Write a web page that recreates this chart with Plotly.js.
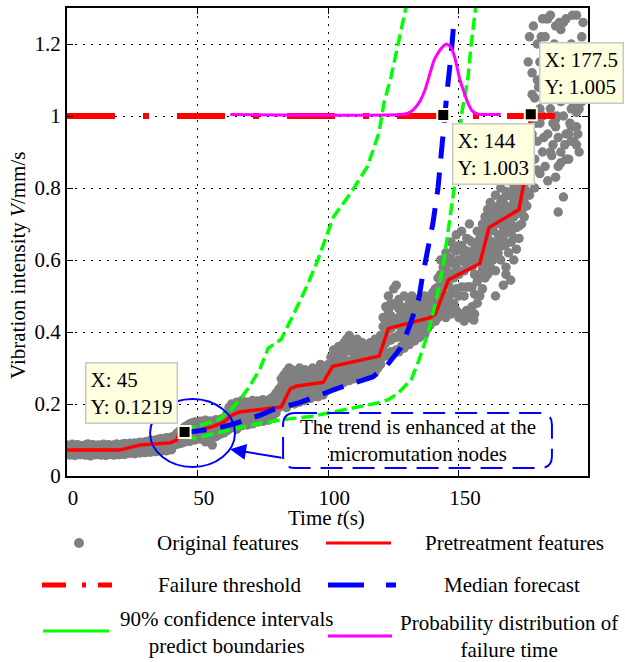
<!DOCTYPE html>
<html><head><meta charset="utf-8">
<script src="https://cdn.plot.ly/plotly-3.0.1.min.js"></script>
<style>html,body{margin:0;padding:0;background:#fff}#chart{width:625px;height:662px}</style>
</head><body><div id="chart"></div>
<script>
// ---------- data ----------
const xTicks = [0, 50, 100, 150];
const yTicks = [0, 0.2, 0.4, 0.6, 0.8, 1, 1.2];
const yTickText = ['0', '0.2', '0.4', '0.6', '0.8', '1', '1.2'];

// original features (gray band), grouped by time span
const bandX1 = [0,1,2,3,4,5,6,7,8,9,10,11,12,13,14,15,16,17,18,19,20];
const bandUp1 = [.086,.084,.088,.083,.087,.085,.082,.086,.089,.084,.087,.083,.086,.085,.088,.084,.087,.083,.086,.089,.085];
const bandMid1 = [.072,.074,.07,.073,.071,.075,.072,.07,.074,.071,.073,.072,.075,.07,.073,.071,.074,.072,.07,.073,.075];
const bandLow1 = [.06,.058,.062,.057,.061,.059,.063,.058,.06,.056,.061,.059,.062,.058,.06,.057,.061,.06,.058,.062,.059];

const bandX2 = [21,22,23,24,25,26,27,28,29,30,31,32,33,34,35,36,37,38,39,40];
const bandUp2 = [.088,.09,.087,.091,.089,.092,.09,.094,.092,.095,.096,.099,.097,.1,.102,.104,.101,.106,.104,.108];
const bandMid2 = [.075,.077,.074,.078,.076,.079,.077,.08,.079,.082,.08,.083,.082,.085,.084,.087,.085,.088,.087,.09];
const bandLow2 = [.062,.06,.064,.063,.065,.062,.066,.064,.067,.065,.068,.066,.07,.068,.071,.069,.072,.07,.074,.073];

const bandX3 = [41,42,43,44,45,46,47,48,49,50,51,52,53,54,55,56,57,58,59,60];
const bandUp3 = [.11,.118,.125,.13,.136,.14,.145,.148,.15,.146,.152,.149,.155,.151,.153,.148,.156,.152,.158,.16];
const bandUpMid3 = [.104,.109,.115,.119,.123,.129,.133,.137,.136,.137,.139,.14,.141,.142,.141,.141,.143,.144,.149,.151];
const bandMid3 = [.098,.1,.104,.108,.11,.118,.12,.125,.122,.128,.125,.13,.127,.132,.129,.134,.13,.136,.14,.142];
const bandLow3 = [.085,.088,.09,.092,.095,.1,.096,.104,.1,.106,.103,.108,.105,.11,.107,.112,.109,.114,.118,.12];

const bandX4 = [61,62,63,64,65,66,67,68,69,70,71,72,73,74,75,76,77,78,79,80];
const bandUp4 = [.17,.19,.2,.195,.205,.2,.21,.198,.205,.2,.21,.203,.208,.2,.212,.205,.21,.215,.22,.23];
const bandUpMid4 = [.16,.175,.182,.182,.186,.186,.192,.184,.19,.187,.194,.189,.194,.189,.197,.192,.197,.202,.208,.215];
const bandMid4 = [.15,.16,.165,.17,.168,.172,.175,.17,.176,.174,.178,.175,.18,.178,.182,.18,.184,.19,.195,.2];
const bandMidLow4 = [.138,.145,.15,.155,.149,.158,.158,.159,.159,.162,.162,.165,.165,.168,.167,.17,.17,.178,.182,.188];
const bandLow4 = [.125,.13,.135,.14,.13,.145,.14,.148,.142,.15,.145,.155,.15,.158,.152,.16,.155,.165,.17,.175];

const bandX5 = [81,82,83,84,85,86,87,88,89,90,91,92,93,94,95,96,97,98,99,100];
const bandUp5 = [.24,.27,.28,.29,.3,.295,.29,.285,.3,.28,.295,.285,.29,.3,.28,.29,.31,.3,.305,.31];
const bandUpMid5 = [.228,.25,.26,.268,.275,.268,.27,.265,.278,.265,.278,.27,.27,.28,.268,.278,.29,.283,.29,.295];
const bandMid5 = [.215,.23,.24,.245,.25,.24,.25,.245,.255,.25,.26,.255,.25,.26,.255,.265,.27,.265,.275,.28];
const bandMidLow5 = [.2,.212,.22,.218,.225,.222,.225,.228,.23,.232,.235,.238,.232,.24,.24,.243,.25,.245,.255,.26];
const bandLow5 = [.19,.195,.2,.19,.2,.205,.2,.21,.205,.215,.21,.22,.215,.22,.225,.22,.23,.225,.235,.24];

const bandX6 = [101,102,103,104,105,106,107,108,109,110,111,112,113,114,115,116,117,118,119,120];
const bandUp6 = [.33,.35,.34,.36,.35,.37,.38,.39,.37,.36,.38,.35,.37,.36,.35,.37,.36,.38,.37,.39];
const bandUpMid6 = [.31,.325,.322,.335,.325,.342,.35,.35,.345,.338,.352,.335,.35,.342,.335,.35,.342,.358,.355,.368];
const bandMid6 = [.29,.3,.305,.31,.3,.315,.32,.31,.32,.315,.325,.32,.33,.325,.32,.33,.325,.335,.34,.345];
const bandMidLow6 = [.268,.275,.282,.282,.282,.288,.295,.288,.298,.292,.302,.298,.308,.302,.305,.308,.31,.312,.32,.328];
const bandLow6 = [.245,.25,.26,.255,.265,.26,.27,.265,.275,.27,.28,.275,.285,.28,.29,.285,.295,.29,.3,.31];

const bandX7 = [121,122,123,124,125,126,127,128,129,130,131,132,133,134,135,136,137,138,139,140];
const bandUp7 = [.44,.47,.5,.48,.52,.53,.49,.47,.5,.46,.48,.5,.47,.49,.46,.48,.5,.47,.49,.51];
const bandUpMid7 = [.415,.435,.46,.445,.475,.475,.465,.44,.465,.44,.46,.465,.445,.465,.445,.465,.47,.45,.47,.49];
const bandMid7 = [.39,.4,.42,.41,.43,.42,.44,.41,.43,.42,.44,.43,.42,.44,.43,.45,.44,.43,.45,.47];
const bandMidLow7 = [.36,.37,.378,.378,.385,.385,.392,.385,.392,.395,.402,.405,.398,.415,.408,.425,.418,.42,.435,.45];
const bandLow7 = [.33,.34,.335,.345,.34,.35,.345,.36,.355,.37,.365,.38,.375,.39,.385,.4,.395,.41,.42,.43];

const bandX8 = [141,142,143,144,145,146,147,148,149,150,151,152,153,154,155,156,157,158,159,160];
const bandUp8 = [.52,.55,.6,.58,.62,.6,.65,.63,.67,.64,.68,.62,.66,.7,.65,.63,.68,.66,.7,.72];
const bandUpMid8 = [.5,.525,.56,.545,.58,.565,.605,.59,.625,.6,.64,.595,.625,.655,.615,.595,.64,.64,.665,.68];
const bandMid8 = [.48,.5,.52,.51,.54,.53,.56,.55,.58,.56,.6,.57,.59,.61,.58,.56,.6,.62,.63,.64];
const bandMidLow8 = [.455,.47,.485,.485,.49,.5,.505,.515,.52,.5,.525,.5,.525,.525,.525,.505,.54,.56,.575,.595];
const bandLow8 = [.43,.44,.45,.46,.44,.47,.45,.48,.46,.44,.45,.43,.46,.44,.47,.45,.48,.5,.52,.55];

const bandX9 = [161,162,163,164,165,166,167,168,169,170,171,172,173,174,175,176,177];
const bandUp9 = [.74,.76,.72,.78,.75,.8,.77,.79,.82,.78,.8,.83,.81,.85,.88,.9,.95];
const bandUpMid9 = [.7,.72,.685,.74,.71,.76,.73,.75,.78,.74,.76,.79,.77,.81,.84,.865,.905];
const bandMid9 = [.66,.68,.65,.7,.67,.72,.69,.71,.74,.7,.72,.75,.73,.77,.8,.83,.86];
const bandMidLow9 = [.61,.63,.625,.635,.645,.66,.665,.645,.68,.675,.66,.69,.695,.735,.76,.79,.82];
const bandLow9 = [.56,.58,.6,.57,.62,.6,.64,.58,.62,.65,.6,.63,.66,.7,.72,.75,.78];

const cloudX = [176,177,178,178,179,179,180,180,181,181,182,182,183,183,184,184,185,185,186,186,187,187,188,188,189,189,190,190,191,191,192,192,193,193,194,194,195,195,196,196,197,197,178,180,182,184,186,188,190,192,194,196,181,185,189,193,187,191,195,183,
  176.5,177.5,178.5,179.5,180.5,181.5,182.5,183.5,184.5,185.5,186.5,187.5,188.5,189.5,190.5,191.5,192.5,193.5,194.5,195.5,196.5,197.5,179,183,187,191,195,177,181,185,189,193,197,180,184,188,192,196,186,190];
const cloudY = [0.9,1.0,0.95,1.12,0.88,1.05,1.2,0.93,1.15,0.98,1.27,0.9,1.08,1.22,0.95,1.17,1.02,1.28,0.92,1.1,1.25,0.97,1.05,1.18,0.9,1.24,1.0,1.13,0.95,1.27,1.07,0.88,1.2,1.02,0.93,1.15,1.28,0.97,1.1,0.9,1.22,1.04,1.06,0.85,1.0,0.82,1.14,0.86,1.19,0.95,1.03,1.16,0.84,0.9,0.87,0.93,0.99,1.09,1.01,1.12,
  1.15,0.85,1.25,0.98,1.08,1.22,0.94,1.27,1.05,0.89,1.2,1.0,1.26,1.11,0.92,1.18,0.98,1.28,1.06,0.95,1.17,1.26,0.8,0.86,0.83,0.88,0.92,1.22,1.02,1.12,1.04,0.97,1.12,1.1,1.27,0.94,1.15,1.02,0.98,1.26];

const strayX = [53, 55.6, 155.7, 164, 167, 168, 169.8, 188, 190];
const strayY = [0.095, 0.086, 0.433, 0.5, 0.53, 0.56, 0.544, 0.733, 0.775];

// pretreatment features (red)
const preX = [0, 20, 28, 39.5, 42, 43, 48, 56, 60, 63, 66, 79, 82, 85.5, 88, 98, 101.7, 119.5, 123, 139, 141, 146, 152, 158, 161.5, 173, 175, 177.5];
const preY = [0.072, 0.072, 0.086, 0.092, 0.1, 0.12, 0.122, 0.138, 0.15, 0.168, 0.178, 0.189, 0.192, 0.243, 0.25, 0.26, 0.305, 0.333, 0.41, 0.44, 0.45, 0.545, 0.567, 0.59, 0.69, 0.74, 0.82, 1.005];

// failure threshold
const thrX = [0, 190];
const thrY = [1, 1];

// median forecast (blue)
const medX = [45, 49, 57.6, 62.6, 74, 79, 88.7, 94.4, 102, 107.5, 117, 122, 127.8, 131, 134.7, 136, 138.6, 140, 142, 143.3, 144.3, 145.5, 147, 148.3];
const medY = [0.122, 0.124, 0.133, 0.142, 0.169, 0.185, 0.203, 0.217, 0.239, 0.253, 0.275, 0.303, 0.356, 0.414, 0.494, 0.553, 0.647, 0.70, 0.80, 0.90, 1.0, 1.07, 1.17, 1.28];

// 90% confidence boundaries (green)
const upX = [45, 49, 57.6, 62.6, 67, 70, 74, 77, 80, 82, 87, 92, 96, 102, 108.6, 115, 119.4, 121.3, 124, 127, 129.7];
const upY = [0.122, 0.137, 0.155, 0.183, 0.22, 0.25, 0.30, 0.355, 0.37, 0.38, 0.453, 0.53, 0.60, 0.72, 0.786, 0.86, 0.953, 1.036, 1.108, 1.21, 1.30];
const loX = [45, 49, 57.6, 65, 74, 84.5, 93, 102, 110, 119, 123, 126.7, 131.7, 134.7, 138.2, 141.3, 143.9, 147, 148.2, 150.9, 153.5, 154.7, 156.4];
const loY = [0.108, 0.105, 0.12, 0.133, 0.147, 0.158, 0.165, 0.178, 0.19, 0.203, 0.212, 0.23, 0.267, 0.322, 0.397, 0.489, 0.581, 0.73, 0.80, 1.0, 1.108, 1.2, 1.3];

// probability distribution of failure time (magenta)
const pdfX = [62.5, 128, 130.5, 132.5, 135, 137, 139, 140.5, 142, 143.5, 145.3, 147, 148.5, 150.4, 152, 153.5, 155, 157, 160, 166];
const pdfY = [1.004, 1.004, 1.008, 1.017, 1.04, 1.072, 1.12, 1.155, 1.175, 1.19, 1.2, 1.19, 1.16, 1.1, 1.065, 1.035, 1.015, 1.006, 1.004, 1.004];

// data tips
const tipX = [45, 144, 177.5];
const tipY = [0.1219, 1.003, 1.005];
const tipText = ['X: 45<br>Y: 0.1219', 'X: 144<br>Y: 1.003', 'X: 177.5<br>Y: 1.005'];

const legendLabels = ['Original features', 'Pretreatment features', 'Failure threshold', 'Median forecast',
  '90% confidence intervals<br>predict boundaries', 'Probability distribution of<br>failure time'];
const noteText = 'The trend is enhanced at the<br>micromutation nodes';

// ---------- build ----------
const groups = [
  [bandX1, [bandUp1, bandMid1, bandLow1]],
  [bandX2, [bandUp2, bandMid2, bandLow2]],
  [bandX3, [bandUp3, bandUpMid3, bandMid3, bandLow3]],
  [bandX4, [bandUp4, bandUpMid4, bandMid4, bandMidLow4, bandLow4]],
  [bandX5, [bandUp5, bandUpMid5, bandMid5, bandMidLow5, bandLow5]],
  [bandX6, [bandUp6, bandUpMid6, bandMid6, bandMidLow6, bandLow6]],
  [bandX7, [bandUp7, bandUpMid7, bandMid7, bandMidLow7, bandLow7]],
  [bandX8, [bandUp8, bandUpMid8, bandMid8, bandMidLow8, bandLow8]],
  [bandX9, [bandUp9, bandUpMid9, bandMid9, bandMidLow9, bandLow9]]
];
const origX = [], origY = [];
groups.forEach(([xs, rows]) => rows.forEach(r => r.forEach((v, i) => { origX.push(xs[i]); origY.push(v); })));
cloudX.forEach((v, i) => { origX.push(v); origY.push(cloudY[i]); });
strayX.forEach((v, i) => { origX.push(v); origY.push(strayY[i]); });

const FONT = 'Liberation Serif, Times New Roman, serif';
const RED = '#FF0000', BLUE = '#0000FF', GREEN = '#00FF00', MAG = '#FF00FF', GRAY = '#808080';

const traces = [
  {x: origX, y: origY, type: 'scatter', mode: 'markers', marker: {color: GRAY, size: 9.5}, showlegend: false, hoverinfo: 'skip'},
  {x: preX, y: preY, type: 'scatter', mode: 'lines', line: {color: RED, width: 3.5}, showlegend: false},
  {x: thrX, y: thrY, type: 'scatter', mode: 'lines', line: {color: RED, width: 6, dash: '48px,28px,6px,28px'}, showlegend: false},
  {x: upX, y: upY, type: 'scatter', mode: 'lines', line: {color: GREEN, width: 3.5, dash: '12px,5px'}, showlegend: false},
  {x: loX, y: loY, type: 'scatter', mode: 'lines', line: {color: GREEN, width: 3.5, dash: '12px,5px'}, showlegend: false},
  {x: medX, y: medY, type: 'scatter', mode: 'lines', line: {color: BLUE, width: 5, dash: '22px,14px'}, showlegend: false},
  {x: pdfX, y: pdfY, type: 'scatter', mode: 'lines', line: {color: MAG, width: 3, shape: 'spline', smoothing: 0.6}, showlegend: false},
  {x: tipX, y: tipY, type: 'scatter', mode: 'markers', marker: {symbol: 'square', size: 12, color: '#000', line: {color: '#FFFFE0', width: 2}}, showlegend: false, cliponaxis: false}
];

// pixel helpers for layout decoration (plot area: left 67, right 588, top 8, bottom 476)
const PL = 67, PW = 521, PB = 476, PH = 468;
const px = v => (v - PL) / PW;
const py = v => (PB - v) / PH;
const lineShape = (x0, x1, y, color, width) => ({type: 'line', xref: 'paper', yref: 'paper', x0: px(x0), x1: px(x1), y0: py(y), y1: py(y), line: {color, width}});

// rounded dashed note box in data coordinates
const bx0 = 82.7, bx1 = 185.6, by0 = 0.022, by1 = 0.175, rx = 4.6, ry = 0.033;
const boxPath = `M ${bx0+rx},${by1} L ${bx1-rx},${by1} Q ${bx1},${by1} ${bx1},${by1-ry} L ${bx1},${by0+ry} Q ${bx1},${by0} ${bx1-rx},${by0} L ${bx0+rx},${by0} Q ${bx0},${by0} ${bx0},${by0+ry} L ${bx0},${by1-ry} Q ${bx0},${by1} ${bx0+rx},${by1} Z`;

const shapes = [
  {type: 'path', xref: 'x', yref: 'y', path: boxPath, line: {color: BLUE, width: 2, dash: '22px,10px'}},
  {type: 'circle', xref: 'x', yref: 'y', x0: 31.8, x1: 64.3, y0: 0.025, y1: 0.214, line: {color: BLUE, width: 2}},
  // legend samples
  {type: 'circle', xref: 'paper', yref: 'paper', x0: px(74), x1: px(84), y0: py(548), y1: py(538), fillcolor: GRAY, line: {width: 0}},
  lineShape(326, 391, 543, RED, 3),
  lineShape(42, 66, 585, RED, 5), lineShape(82, 86, 585, RED, 5), lineShape(98, 112, 585, RED, 5),
  lineShape(328, 364, 585, BLUE, 5), lineShape(386, 396, 585, BLUE, 5),
  lineShape(43, 109, 631, GREEN, 3),
  lineShape(328, 392, 636, MAG, 3)
];

const tipShift = [[-7, 8, 'right', 'bottom'], [9, -8, 'left', 'top'], [8, 10, 'left', 'bottom']];
const annotations = tipX.map((x, i) => ({
  x, y: tipY[i], xref: 'x', yref: 'y', text: tipText[i], showarrow: false, align: 'left',
  xanchor: tipShift[i][2], yanchor: tipShift[i][3], xshift: tipShift[i][0], yshift: tipShift[i][1],
  bgcolor: '#FFFFE0', bordercolor: '#C8C8C8', borderwidth: 1.5, borderpad: 4,
  font: {family: FONT, size: 21, color: '#000'}
}));
const centered = {showarrow: false, xanchor: 'center', yanchor: 'middle', align: 'center', font: {family: FONT, size: 21, color: '#000'}};
annotations.push(
  Object.assign({x: 134.2, y: 0.098, xref: 'x', yref: 'y', text: noteText}, centered),
  {x: 62.4, y: 0.074, xref: 'x', yref: 'y', ax: 82.7, ay: 0.05, axref: 'x', ayref: 'y', text: '', showarrow: true, arrowhead: 2, arrowsize: 1.6, arrowwidth: 2, arrowcolor: BLUE, standoff: 0},
  Object.assign({x: px(18), y: py(266), xref: 'paper', yref: 'paper', text: 'Vibration intensity <i>V</i>/mm/s', textangle: -90}, centered),
  Object.assign({x: px(326), y: py(518), xref: 'paper', yref: 'paper', text: 'Time <i>t</i>(s)'}, centered)
);
const legendPos = [[228, 543], [514, 543], [229, 585], [512, 585], [226, 632], [509, 636]];
legendLabels.forEach((t, i) => annotations.push(Object.assign({
  x: px(legendPos[i][0]), y: py(legendPos[i][1]), xref: 'paper', yref: 'paper', text: t
}, centered)));

const axisCommon = {
  ticks: 'inside', ticklen: 6, tickwidth: 1, tickcolor: '#000',
  showline: true, linecolor: '#000', linewidth: 2, mirror: 'ticks',
  showgrid: true, gridcolor: '#000', gridwidth: 1, griddash: '2px,6px',
  zeroline: false, tickfont: {family: FONT, size: 21, color: '#000'}, fixedrange: true
};

const layout = {
  width: 625, height: 662,
  margin: {l: 67, r: 37, t: 8, b: 186, pad: 0},
  paper_bgcolor: '#fff', plot_bgcolor: '#fff',
  font: {family: FONT, size: 21, color: '#000'},
  xaxis: Object.assign({}, axisCommon, {range: [0, 199.4], tickmode: 'array', tickvals: xTicks, ticktext: xTicks.map(String), ticklabelshift: 6, ticklabelstandoff: 2}),
  yaxis: Object.assign({}, axisCommon, {range: [0, 1.3], tickmode: 'array', tickvals: yTicks, ticktext: yTickText}),
  shapes, annotations, showlegend: false
};

Plotly.newPlot('chart', traces, layout, {staticPlot: true, displayModeBar: false});
</script></body></html>
